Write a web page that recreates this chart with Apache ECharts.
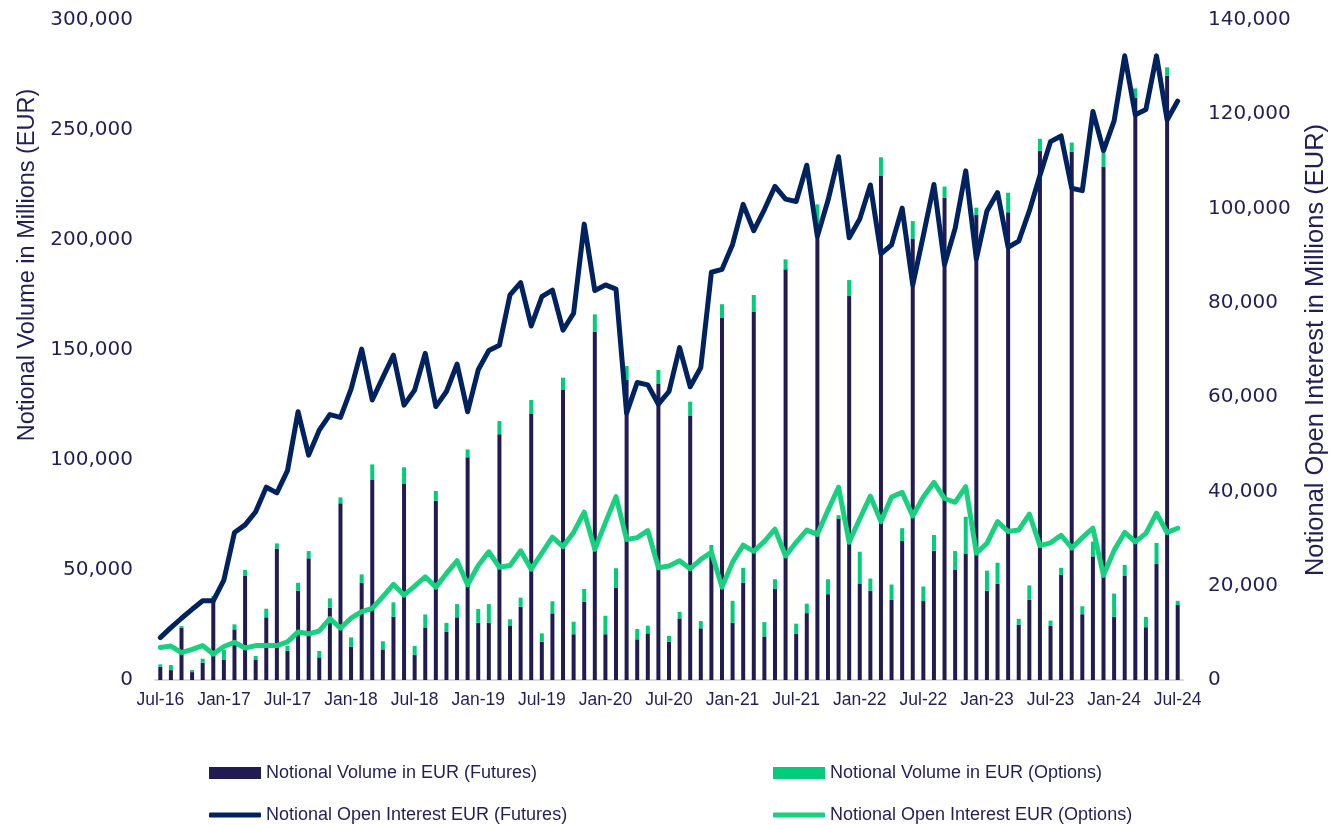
<!DOCTYPE html>
<html>
<head>
    <meta charset="utf-8">
    <title>Notional Volume and Open Interest</title>
    <script src="https://cdn.jsdelivr.net/npm/echarts@6/dist/echarts.min.js"></script>
    <style type="text/css">
        html, body { margin: 0; padding: 0; background: #ffffff; }
        #main { width: 1329px; height: 825px; }
    </style>
</head>
<body>
    <div id="main"></div>
    <script type="text/javascript">
        // month labels Jul-16 .. Jul-24
        var monthNames = ['Jan','Feb','Mar','Apr','May','Jun','Jul','Aug','Sep','Oct','Nov','Dec'];
        var months = [];
        for (var i = 0; i < 97; i++) {
            var m = (6 + i) % 12;
            var y = 16 + Math.floor((6 + i) / 12);
            months.push(monthNames[m] + '-' + y);
        }

        // notional volume, EUR millions
        var volFutures = [
            6000,4500,23800,3600,7900,36400,9100,23000,47300,9100,
            28500,59800,13300,40600,55300,10300,32900,80300,15200,44200,
            90900,13900,28800,89100,11400,23900,81500,22000,28500,101200,
            26000,26000,111700,24800,33300,120900,17400,30300,131800,20800,
            35600,158300,20800,42000,136400,18500,21200,134800,17400,28000,
            120000,23500,58400,164800,26000,44300,167500,19800,41400,186700,
            21100,30400,201300,39000,73400,174500,43900,40600,229300,36400,
            63200,200700,35900,58800,219200,50000,57500,211400,40600,43700,
            212600,25200,36400,240500,24600,47900,240100,29900,56200,233400,
            28700,47500,264500,24000,52700,274600,34100
        ];
        var volOptions = [
            1100,2300,700,900,1800,1800,4500,2300,2700,1800,
            3900,2300,2200,3600,3300,2900,4200,2700,4200,3800,
            7100,3700,6500,7600,4100,5900,4400,4000,6000,3600,
            6300,8500,6000,2800,4100,6400,3800,5500,5600,5700,
            5800,7900,8400,8800,6300,4700,3500,6100,2600,3000,
            6500,3300,3000,6000,10000,6700,7500,6500,4400,4500,
            4500,4300,14900,6800,1500,7300,14400,5500,8300,7000,
            5800,7900,6600,7100,5100,8600,16700,3300,9100,9600,
            8900,2600,6600,5500,2400,3100,4200,3600,6700,6200,
            10600,4800,4400,4700,9600,3900,1900
        ];
        // notional open interest, EUR millions
        var oiFutures = [
            9000,11100,13100,15000,16800,16800,21200,31300,32900,35700,
            40900,39700,44400,56900,47700,53000,56300,55700,61700,70200,
            59400,64200,68900,58300,61500,69300,58000,61200,67000,56900,
            65800,69900,71000,81700,84300,75100,81300,82700,74200,77800,
            96700,82600,83800,82900,56600,63100,62600,58500,61200,70500,
            62200,66300,86500,87100,92400,100900,95300,99800,104700,102000,
            101500,109200,94100,101700,111000,93800,97800,105000,90400,92300,
            100100,83800,94300,105100,88100,95800,108000,89300,99500,103400,
            91800,93100,99500,107000,114200,115400,104300,103800,120600,112300,
            118600,132400,119900,121000,132400,118800,122800
        ];
        var oiOptions = [
            6900,7200,5800,6500,7300,5500,7100,8000,6800,7300,
            7300,7300,8100,10200,9800,10400,13000,11000,13100,14500,
            15200,17700,20300,18000,19900,21900,19700,22600,25300,20200,
            24300,27200,23900,24300,27400,23500,26900,30300,28300,31300,
            35600,27700,33400,38900,29800,30200,31700,23800,24200,25300,
            23600,25600,27100,19700,25000,28600,27300,29400,32000,26300,
            29200,31800,30900,36000,40900,29200,34200,39000,33600,38800,
            39800,34800,38800,41900,38500,37700,41000,26900,29000,33600,
            31500,31800,35200,28500,29100,30700,28000,30200,32200,22200,
            27500,31300,29300,31100,35400,31300,32200
        ];

        var seriesNames = [
            'Notional Volume in EUR (Futures)',
            'Notional Volume in EUR (Options)',
            'Notional Open Interest EUR (Futures)',
            'Notional Open Interest EUR (Options)'
        ];

        var textColor = '#231e55';
        var sans = '"Liberation Sans", Arial, sans-serif';
        var fmt = function (v) { return v.toLocaleString('en-US'); };

        // one legend per item so the 2x2 layout matches the picture
        function legendAt(name, icon, h, left, top) {
            return {
                data: [{ name: name, icon: icon }],
                left: left,
                top: top,
                itemWidth: 52,
                itemHeight: h,
                itemGap: 0,
                textStyle: { color: textColor, fontSize: 18, fontFamily: sans }
            };
        }

        var chart = echarts.init(document.getElementById('main'));
        var option = {
            backgroundColor: '#ffffff',
            animation: false,
            legend: [
                legendAt(seriesNames[0], 'rect', 12, 204, 759),
                legendAt(seriesNames[1], 'rect', 12, 768, 759),
                legendAt(seriesNames[2], 'roundRect', 5, 204, 801),
                legendAt(seriesNames[3], 'roundRect', 5, 768, 801)
            ],
            grid: { left: 155, right: 146, top: 20, bottom: 145, containLabel: false, outerBoundsMode: 'none' },
            xAxis: {
                type: 'category',
                data: months,
                axisLine: { lineStyle: { color: '#d9d9d9', width: 2 } },
                axisTick: { interval: 5, length: 5, lineStyle: { color: '#d9d9d9', width: 2 } },
                axisLabel: {
                    interval: 5,
                    color: textColor,
                    fontSize: 17.5,
                    fontFamily: sans,
                    margin: 11
                }
            },
            yAxis: [{
                type: 'value',
                min: 0,
                max: 300000,
                interval: 50000,
                name: 'Notional Volume in Millions (EUR)',
                nameLocation: 'middle',
                nameRotate: 90,
                nameGap: 112,
                nameTextStyle: { color: textColor, fontSize: 23.5, fontFamily: sans, padding: [0, 0, 0, 170] },
                splitLine: { show: false },
                axisLine: { show: false },
                axisTick: { show: false },
                axisLabel: { color: textColor, fontSize: 20, fontFamily: 'DejaVu Sans', margin: 22, formatter: fmt }
            }, {
                type: 'value',
                min: 0,
                max: 140000,
                interval: 20000,
                name: 'Notional Open Interest in Millions (EUR)',
                nameLocation: 'middle',
                nameRotate: 90,
                nameGap: 120,
                nameTextStyle: { color: textColor, fontSize: 25.5, fontFamily: sans },
                splitLine: { show: false },
                axisLine: { show: false },
                axisTick: { show: false },
                axisLabel: { color: textColor, fontSize: 20, fontFamily: 'DejaVu Sans', margin: 25, formatter: fmt }
            }],
            series: [{
                name: seriesNames[0],
                type: 'bar',
                stack: 'vol',
                barWidth: 4,
                itemStyle: { color: '#211b51' },
                data: volFutures
            }, {
                name: seriesNames[1],
                type: 'bar',
                stack: 'vol',
                barWidth: 4,
                itemStyle: { color: '#00cc7a' },
                data: volOptions
            }, {
                name: seriesNames[2],
                type: 'line',
                yAxisIndex: 1,
                symbol: 'none',
                z: 5,
                lineStyle: { color: '#00225f', width: 5, cap: 'round', join: 'round' },
                itemStyle: { color: '#00225f' },
                data: oiFutures
            }, {
                name: seriesNames[3],
                type: 'line',
                yAxisIndex: 1,
                symbol: 'none',
                z: 6,
                lineStyle: { color: '#19d07e', width: 5, cap: 'round', join: 'round' },
                itemStyle: { color: '#19d07e' },
                data: oiOptions
            }]
        };
        chart.setOption(option);
    </script>
</body>
</html>
